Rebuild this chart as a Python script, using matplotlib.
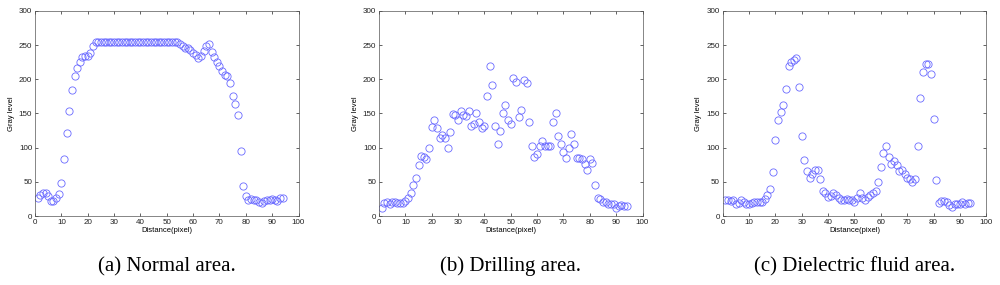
import numpy as np
import matplotlib.pyplot as plt

plt.rcParams['font.family'] = ['Liberation Sans', 'DejaVu Sans']

# distance index
dist = np.arange(1, 95)

# (a) normal area
normal = [26, 31, 34, 34, 29, 22, 22, 26, 32, 49,
          84, 121, 154, 184, 205, 216, 225, 233, 234, 234,
          239, 248] + [254] * 32 + [
          252, 248, 245, 245, 243, 239, 235, 231, 234, 241,
          248, 251, 240, 232, 225, 219, 212, 206, 204, 194,
          176, 164, 147, 95, 44, 29, 23, 25, 24, 23,
          21, 19, 22, 23, 23, 25, 24, 22, 26, 27]

# (b) drilling area
drilling = [12, 19, 21, 18, 20, 20, 19, 19, 19, 22,
            26, 34, 45, 56, 75, 88, 87, 83, 99, 130,
            140, 128, 114, 118, 114, 100, 123, 149, 147, 140,
            154, 148, 146, 153, 132, 134, 150, 137, 128, 131,
            176, 220, 192, 132, 105, 124, 150, 163, 141, 135,
            202, 196, 145, 155, 199, 195, 138, 103, 87, 90,
            103, 110, 103, 102, 102, 138, 150, 117, 105, 93,
            85, 100, 120, 105, 85, 85, 83, 76, 68, 83,
            78, 45, 27, 25, 21, 20, 18, 18, 17, 12,
            14, 16, 14, 14]

# (c) dielectric fluid area
fluid = [23, 23, 22, 23, 17, 19, 24, 20, 17, 18,
         19, 20, 20, 20, 21, 25, 31, 39, 64, 111,
         140, 152, 163, 186, 219, 225, 228, 231, 188, 117,
         82, 66, 55, 62, 68, 68, 54, 37, 33, 28,
         29, 33, 31, 27, 23, 24, 25, 24, 23, 21,
         26, 34, 26, 24, 28, 31, 33, 37, 50, 71,
         92, 102, 87, 76, 81, 74, 66, 67, 61, 55,
         54, 50, 54, 103, 173, 211, 222, 222, 207, 142,
         52, 19, 22, 22, 20, 16, 13, 17, 17, 18,
         20, 18, 19, 19]

series = [normal, drilling, fluid]
captions = ['(a) Normal area.', '(b) Drilling area.', '(c) Dielectric fluid area.']
lefts = [0.035, 0.379, 0.7227]

fig = plt.figure(figsize=(10, 2.85), dpi=100)

for left, vals, cap in zip(lefts, series, captions):
    ax = fig.add_axes([left, 0.242, 0.2635, 0.72])
    ax.plot(dist, vals, 'o', mfc='none', mec='#6a6aff', ms=5.2, mew=0.6)
    ax.set_xlim(0, 100)
    ax.set_ylim(0, 300)
    ax.set_xticks(np.arange(0, 101, 10))
    ax.set_yticks(np.arange(0, 301, 50))
    ax.tick_params(direction='in', top=True, right=True, labelsize=5.8,
                   length=2.5, width=0.5, pad=2, colors='#222222')
    for s in ax.spines.values():
        s.set_linewidth(0.5)
        s.set_color('#555555')
    ax.set_xlabel('Distance(pixel)', fontsize=5.5, labelpad=1)
    ax.set_ylabel('Gray level', fontsize=5.5, labelpad=3)
    fig.text(left + 0.1317, 0.065, cap, ha='center', va='center',
             fontsize=15, family='Liberation Serif')

fig.savefig('out.png', dpi=100)
